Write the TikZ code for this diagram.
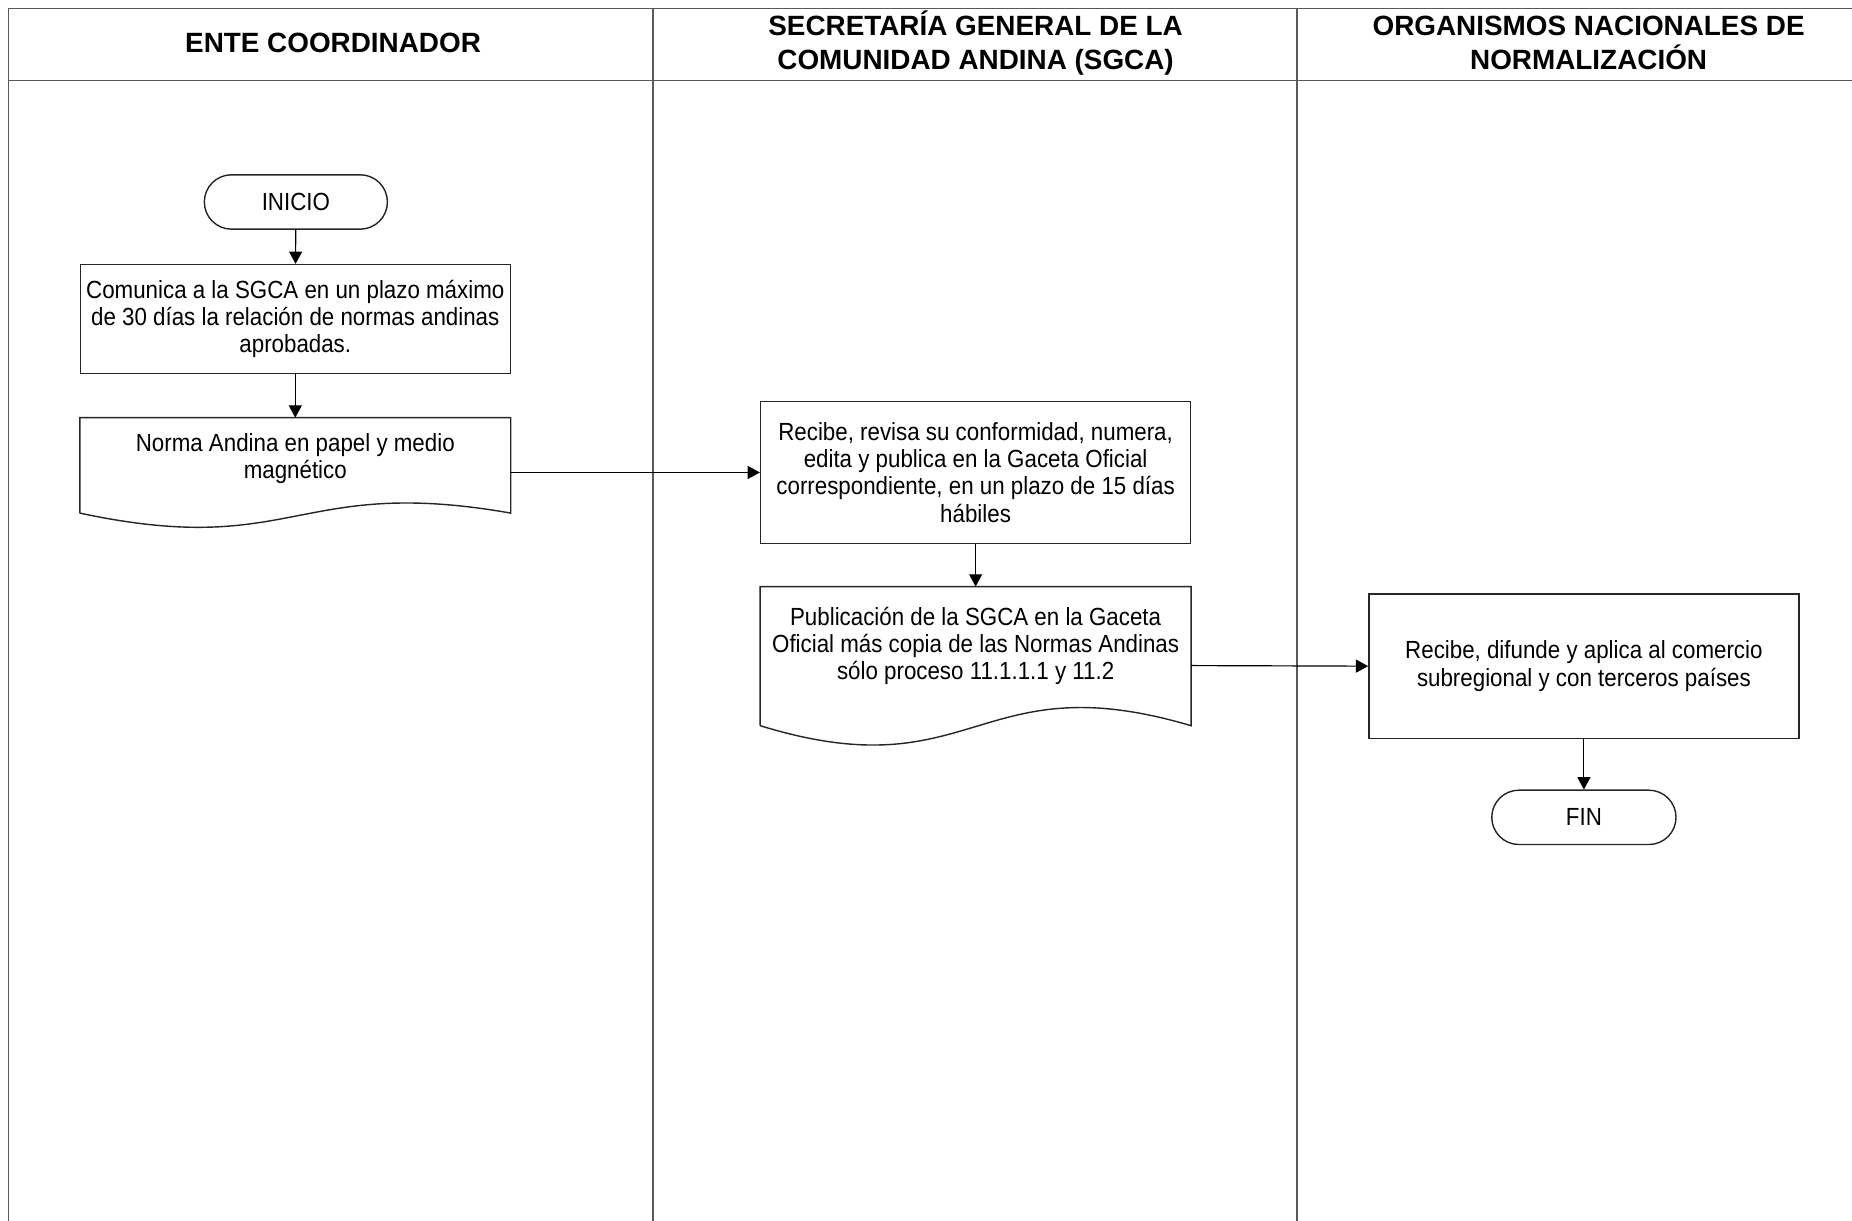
\documentclass[tikz,border=0pt]{standalone}
\usepackage{fontspec}
\setmainfont{Liberation Sans}[FakeStretch=0.9]
\newfontfamily\hdfont{Liberation Sans}
\usetikzlibrary{arrows.meta}
\newcommand\bodyfont{\fontsize{10.5}{11.5}\selectfont}
\newcommand\headfont{\hdfont\bfseries\fontsize{11.8}{14.5}\selectfont}
\begin{document}
\begin{tikzpicture}[x=0.5pt,y=-0.5pt,
  lane/.style={draw=black!65, line width=0.6pt},
  box/.style={draw=black!85, line width=0.6pt, rectangle, minimum width=182pt,
    align=center, inner sep=0pt, font=\bodyfont},
  docbox/.style={rectangle, minimum width=182pt, inner sep=0pt},
  doctext/.style={font=\bodyfont, align=center, inner sep=0pt},
  docline/.style={draw=black!85, line width=0.6pt},
  term/.style={draw=black!85, line width=0.6pt, rectangle, rounded corners=11.5pt,
    minimum width=77.5pt, minimum height=23pt, inner sep=0pt, font=\bodyfont},
  head/.style={font=\headfont, align=center, inner sep=0pt},
  flow/.style={draw=black, line width=0.5pt, -{Triangle[length=5.2pt,width=5.5pt]}}
]
\useasboundingbox (0,0) rectangle (1568,1033);

% swimlane frame
\draw[lane] (1568,7) -- (7,7) -- (7,1040);
\draw[lane] (7,68) -- (1568,68);
\draw[lane] (553,7) -- (553,1040);
\draw[lane] (1098,7) -- (1098,1040);

% headers
\node[head] (h1) at (282,36.5) {ENTE COORDINADOR};
\node[head] (h2) at (826,36.5) {SECRETARÍA GENERAL DE LA\\COMUNIDAD ANDINA (SGCA)};
\node[head] (h3) at (1345,36.5) {ORGANISMOS NACIONALES DE\\NORMALIZACIÓN};

% lane 1
\node[term] (inicio) at (250.5,171) {INICIO};
\node[box, minimum height=46pt] (comunica) at (250,270)
  {Comunica a la SGCA en un plazo máximo\\de 30 días la relación de normas andinas\\aprobadas.};
\node[docbox, minimum height=46pt,
  label={[name=normat, doctext, yshift=5.75pt]center:{Norma Andina en papel y medio\\magnético}}]
  (norma) at (250,400) {};
\draw[docline] ([yshift=6pt]norma.south west) -- (norma.north west) -- (norma.north east)
  -- ([yshift=6pt]norma.south east)
  .. controls +(-182,-32) and +(182,39) .. ([yshift=6pt]norma.south west);

% lane 2
\node[box, minimum height=60pt] (recibe) at (826,400)
  {Recibe, revisa su conformidad, numera,\\edita y publica en la Gaceta Oficial\\correspondiente, en un plazo de 15 días\\hábiles};
\node[docbox, minimum height=66.5pt,
  label={[name=pubt, doctext, yshift=8.4pt]center:{Publicación de la SGCA en la Gaceta\\Oficial más copia de las Normas Andinas\\sólo proceso 11.1.1.1 y 11.2}}]
  (pub) at (826,563.5) {};
\draw[docline] ([yshift=8pt]pub.south west) -- (pub.north west) -- (pub.north east)
  -- ([yshift=8pt]pub.south east)
  .. controls +(-182,-54) and +(182,56) .. ([yshift=8pt]pub.south west);

% lane 3
\node[box, minimum height=61pt] (difunde) at (1341,564)
  {Recibe, difunde y aplica al comercio\\subregional y con terceros países};
\node[term, minimum width=78pt] (fin) at (1341,692) {FIN};

% connectors
\draw[flow] (inicio) -- (comunica);
\draw[flow] (comunica) -- (norma);
\draw[flow] (norma.east) -- (recibe.west);
\draw[flow] (recibe) -- (pub);
\draw[flow] (pub.east) -- (difunde.west);
\draw[flow] (difunde) -- (fin);
\end{tikzpicture}
\end{document}
